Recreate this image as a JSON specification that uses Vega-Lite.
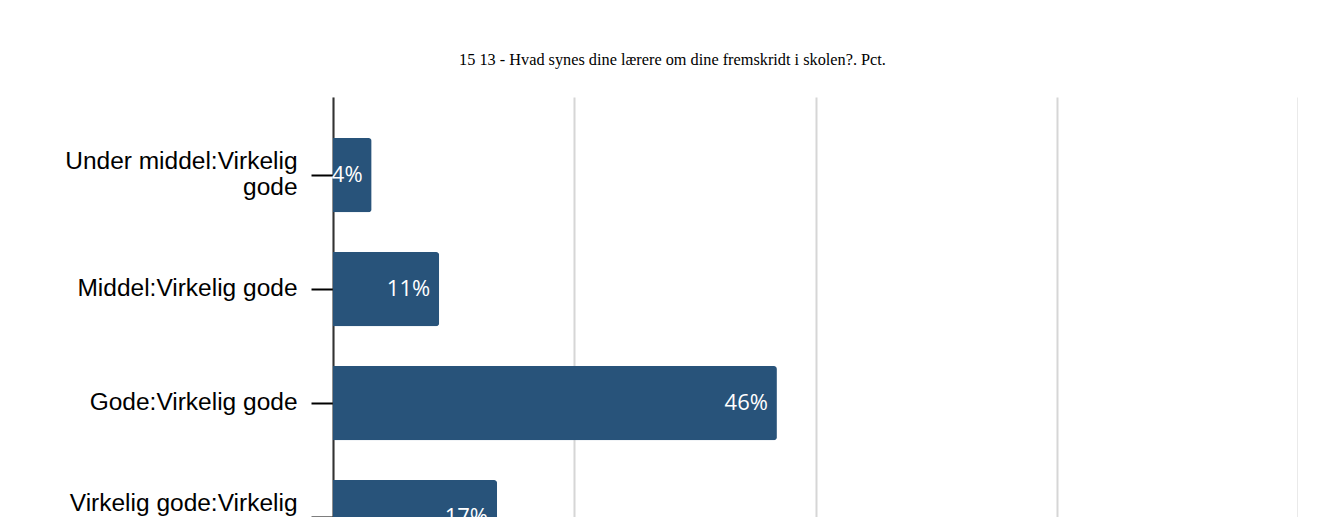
{
  "$schema": "https://vega.github.io/schema/vega-lite/v6.json",
  "width": 965,
  "height": {"step": 114},
  "padding": {"top": 51, "left": 0, "right": 0, "bottom": 0},
  "background": "white",
  "title": {
    "text": "15 13 - Hvad synes dine lærere om dine fremskridt i skolen?. Pct.",
    "font": "Liberation Serif",
    "fontSize": 16.3,
    "fontWeight": "normal",
    "color": "#000000",
    "anchor": "middle",
    "offset": 29,
    "dx": -143
  },
  "data": {
    "values": [
      {"Kategori": "Under middel:Virkelig gode", "Pct": 4, "Etiket": "4%"},
      {"Kategori": "Middel:Virkelig gode", "Pct": 11, "Etiket": "11%"},
      {"Kategori": "Gode:Virkelig gode", "Pct": 46, "Etiket": "46%"},
      {"Kategori": "Virkelig gode:Virkelig gode", "Pct": 17, "Etiket": "17%"}
    ]
  },
  "encoding": {
    "y": {
      "field": "Kategori",
      "type": "nominal",
      "sort": null,
      "scale": {"paddingInner": 0.35, "paddingOuter": 0.36},
      "axis": {
        "title": null,
        "labelFont": "Liberation Sans",
        "labelFontSize": 24.5,
        "labelColor": "#000000",
        "labelPadding": 14,
        "labelLineHeight": 26,
        "labelLimit": 400,
        "labelExpr": "length(datum.label) > 22 ? [substring(datum.label, 0, lastindexof(datum.label, ' ')), substring(datum.label, lastindexof(datum.label, ' ') + 1)] : datum.label",
        "labelOffset": {"condition": {"test": "length(datum.value) > 22", "value": -13}, "value": 0},
        "tickSize": 22,
        "tickWidth": 2,
        "tickColor": "#000000",
        "domainColor": "#333333",
        "domainWidth": 2,
        "minExtent": 333,
        "maxExtent": 333
      }
    },
    "x": {
      "field": "Pct",
      "type": "quantitative",
      "scale": {"domain": [0, 100]},
      "axis": {
        "title": null,
        "values": [0, 25, 50, 75, 100],
        "grid": true,
        "gridColor": "#d6d6d6",
        "gridWidth": 2,
        "domain": false,
        "ticks": false,
        "labels": false
      }
    }
  },
  "layer": [
    {
      "mark": {"type": "bar", "color": "#28537a", "cornerRadiusEnd": 3}
    },
    {
      "mark": {
        "type": "text",
        "align": "right",
        "baseline": "middle",
        "dx": -9,
        "color": "#ffffff",
        "font": "Open Sans",
        "fontSize": 22
      },
      "encoding": {
        "text": {"field": "Etiket", "type": "nominal"}
      }
    }
  ],
  "config": {"view": {"stroke": null}}
}
